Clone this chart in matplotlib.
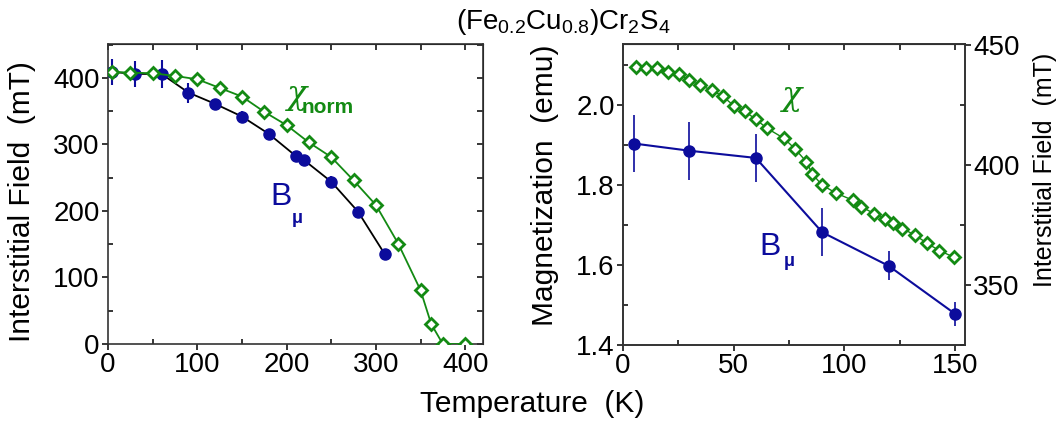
import numpy as np
import matplotlib
matplotlib.use('Agg')
import matplotlib.pyplot as plt
from matplotlib.ticker import MultipleLocator

plt.rcParams['font.family'] = ['Liberation Sans', 'DejaVu Sans']
plt.rcParams['mathtext.default'] = 'regular'

blue = '#0c0c9c'
green = '#138a13'

# left panel: muon field B_mu and normalised susceptibility chi_norm
T_mu = [5, 30, 60, 90, 120, 150, 180, 210, 220, 250, 280, 310]
B_mu = [409, 406, 406, 378, 361, 342, 316, 283, 276, 244, 199, 135]
B_mu_err = [20, 19, 21, 15, 8, 8, 6, 6, 6, 8, 7, 6]

T_chi = [5, 25, 50, 75, 100, 125, 150, 175, 200, 225, 250, 275, 300, 325, 350, 362, 375, 400]
chi_norm = [409, 408, 407, 403, 398, 385, 372, 349, 329, 303, 281, 246, 209, 151, 81, 30, 0, 0]

# right panel: magnetization (emu) and B_mu (mT)
T_r = [5, 30, 60, 90, 120, 150]
B_r = [409, 406, 403, 372, 358, 338]
B_r_err = [12, 12, 10, 10, 6, 5]

T_M = [5.8, 10.3, 15.2, 20.3, 25.3, 30, 35, 40.2, 45, 50, 54.9, 60, 64.9, 72.8, 77.9,
       82.8, 85.5, 89.8, 96.4, 103.7, 107.5, 113.5, 118.2, 122, 126.2, 132.1, 137.4, 142.9, 149.6]
M = [2.094, 2.092, 2.091, 2.083, 2.076, 2.061, 2.049, 2.036, 2.022, 1.998, 1.984, 1.964,
     1.942, 1.916, 1.889, 1.858, 1.828, 1.800, 1.779, 1.762, 1.746, 1.728, 1.715, 1.704,
     1.691, 1.674, 1.654, 1.636, 1.619]

fig = plt.figure(figsize=(10.64, 4.24), dpi=100)
W, H = 1064., 424.
ax1 = fig.add_axes([108/W, 80/H, 375/W, 300/H])
ax2 = fig.add_axes([623/W, 79/H, 342/W, 301/H])

def style(ax, xmaj, xmin, ymaj, ymin):
    ax.xaxis.set_major_locator(MultipleLocator(xmaj))
    ax.xaxis.set_minor_locator(MultipleLocator(xmin))
    ax.yaxis.set_major_locator(MultipleLocator(ymaj))
    ax.yaxis.set_minor_locator(MultipleLocator(ymin))
    ax.tick_params(which='major', direction='out', length=4, width=1.1, labelsize=20, pad=2)
    ax.tick_params(which='minor', direction='in', length=3.5, width=1.1)
    for s in ax.spines.values():
        s.set_linewidth(1.2)
        s.set_color('#333333')

# ---- left panel
ax1.errorbar(T_mu, B_mu, yerr=B_mu_err, fmt='o', color=blue, ms=8, elinewidth=1.5,
             capsize=0, zorder=3)
ax1.plot(T_mu, B_mu, '-', color='black', lw=1.3, zorder=2)
ax1.plot(T_chi, chi_norm, '-D', color=green, mfc='white', mec=green, ms=6.5, mew=2,
         lw=1.3, zorder=4)
ax1.set_xlim(0, 420)
ax1.set_ylim(0, 451)
style(ax1, 100, 50, 100, 50)
top1 = ax1.secondary_xaxis('top')
top1.set_xticks(np.arange(0, 401, 50))
top1.tick_params(direction='in', length=4, width=1.1, labeltop=False)
right1 = ax1.secondary_yaxis('right')
right1.set_yticks(np.arange(0, 451, 50))
right1.tick_params(direction='in', length=4, width=1.1, labelright=False)

ax1.text(200, 375, 'χ', color=green, fontsize=24, ha='left', va='center',
         family=['DejaVu Serif'], style='italic')
ax1.text(217, 355, 'norm', color=green, fontsize=15, fontweight='bold', ha='left', va='center')
ax1.text(182, 221, 'B', color=blue, fontsize=23, ha='left', va='center')
ax1.text(206, 189, 'μ', color=blue, fontsize=13, fontweight='bold', ha='left', va='center')

# ---- right panel
ax2.plot(T_M, M, '-D', color=green, mfc='white', mec=green, ms=6.5, mew=2, lw=1.0, zorder=3)
ax2.set_xlim(0, 154.5)
ax2.set_ylim(1.4, 2.152)
style(ax2, 50, 25, 0.2, 0.1)
ax2.yaxis.set_major_formatter(matplotlib.ticker.FormatStrFormatter('%.1f'))
top2 = ax2.secondary_xaxis('top')
top2.set_xticks(np.arange(0, 151, 25))
top2.tick_params(direction='in', length=4, width=1.1, labeltop=False)

tw = ax2.twinx()
tw.errorbar(T_r, B_r, yerr=B_r_err, fmt='-o', color=blue, ms=8, elinewidth=1.2, lw=1.5,
            capsize=0)
tw.set_ylim(325, 450.5)
tw.yaxis.set_major_locator(MultipleLocator(50))
tw.yaxis.set_minor_locator(MultipleLocator(25))
tw.tick_params(which='major', direction='out', length=4, width=1.1, labelsize=20, pad=2)
tw.tick_params(which='minor', direction='in', length=3.5, width=1.1)
for s in tw.spines.values():
    s.set_linewidth(1.2)
    s.set_color('#333333')

ax2.text(72, 2.022, 'χ', color=green, fontsize=24, ha='left', va='center',
         family=['DejaVu Serif'], style='italic')
tw.text(61.5, 366, 'B', color=blue, fontsize=23, ha='left', va='center')
tw.text(72.5, 360, 'μ', color=blue, fontsize=13, fontweight='bold', ha='left', va='center')

# ---- labels
fig.text(22/W, 1 - 202/H, 'Interstitial Field  (mT)', rotation=90, fontsize=21.5,
         ha='center', va='center')
fig.text(545/W, 1 - 185/H, 'Magnetization  (emu)', rotation=90, fontsize=21.5,
         ha='center', va='center')
fig.text(1045/W, 1 - 170/H, 'Interstitial Field  (mT)', rotation=90, fontsize=18,
         ha='center', va='center')
fig.text(532/W, 1 - 404/H, 'Temperature  (K)', fontsize=21.5, ha='center', va='center')
fig.text(563/W, 1 - 22/H, r'(Fe$_{0.2}$Cu$_{0.8}$)Cr$_2$S$_4$', fontsize=20,
         ha='center', va='center')

fig.savefig('out.png', dpi=100)
